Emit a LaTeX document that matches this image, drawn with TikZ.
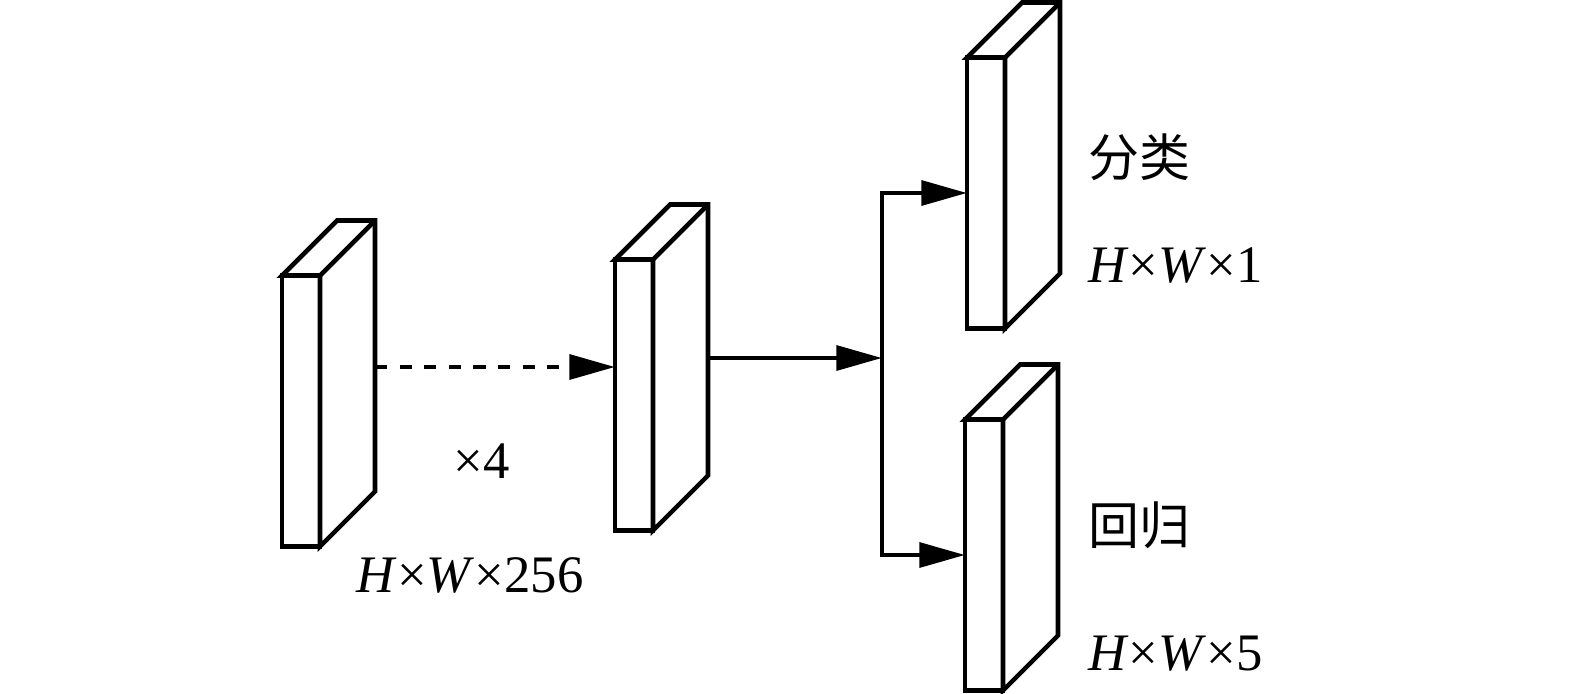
\documentclass[tikz,border=0pt]{standalone}
\usepackage{fontspec}
\setmainfont{Liberation Serif}
\newfontfamily\cjk{Noto Sans CJK SC}
\usepackage{tikz}
\usetikzlibrary{arrows.meta, positioning, calc}
\tikzset{
    slab/.style={
        draw=black, fill=white, line width=2.6pt,
        minimum width=0.76cm, minimum height=5.42cm,
        inner sep=0pt, outer sep=0pt,
    },
    face/.style={
        draw=black, fill=white, line width=2.6pt, line join=miter,
    },
    arr/.style={
        -{Triangle[length=26pt, width=14pt]}, line width=2.6pt, black,
    },
    dasharr/.style={
        arr, dash pattern=on 7pt off 7pt,
    },
    dimlabel/.style={
        font=\fontsize{30}{36}\selectfont, inner sep=0pt, text depth=0pt,
    },
    cnlabel/.style={
        font=\cjk\fontsize{29}{34}\selectfont, inner sep=0pt,
    },
}
% top and side faces of a slab
\newcommand{\slabdepth}[1]{%
  \draw[face] (#1.north west) -- ++(55,-55) -- ([shift={(55,-55)}]#1.north east)
     -- ([shift={(55,-55)}]#1.south east) -- (#1.south east) -- (#1.north east) -- cycle;
  \draw[face] (#1.north east) -- ++(55,-55);
}

\begin{document}
\begin{tikzpicture}[x=0.02cm, y=-0.02cm]
\useasboundingbox (0,0) rectangle (1575,693);

% ═══ FEATURE MAPS ═══
\node[slab] (c1) at (301, 411) {};
\slabdepth{c1}
\node[slab] (c2) at (634, 395) {};
\slabdepth{c2}
\node[slab] (c3) at (986, 193) {};
\slabdepth{c3}
\node[slab] (c4) at (984, 555) {};
\slabdepth{c4}

% ═══ CONNECTORS ═══
\coordinate (d1) at ($(c1.east)+(55,-44)$);
\coordinate (d2) at ($(c2.east)+(55,-37)$);
\coordinate (split) at (882, 358);

\draw[dasharr] (d1) -- (d1 -| c2.west);
\draw[arr] (d2) -- (split);
\draw[arr] (split) |- (c3.west);
\draw[arr] (split) |- (c4.west);

% ═══ LABELS ═══
\node[dimlabel] (rep) at (482, 461) {×4};
\node[dimlabel] (dim1) at (470, 575) {\textit{H}×\textit{W}×256};
\node[cnlabel, anchor=west] (cls) at (1088, 157) {分类};
\node[dimlabel, anchor=west] (dim3) at (1088, 265) {\textit{H}×\textit{W}×1};
\node[cnlabel, anchor=west] (reg) at (1088, 525) {回归};
\node[dimlabel, anchor=west] (dim4) at (1088, 653) {\textit{H}×\textit{W}×5};

\end{tikzpicture}
\end{document}
